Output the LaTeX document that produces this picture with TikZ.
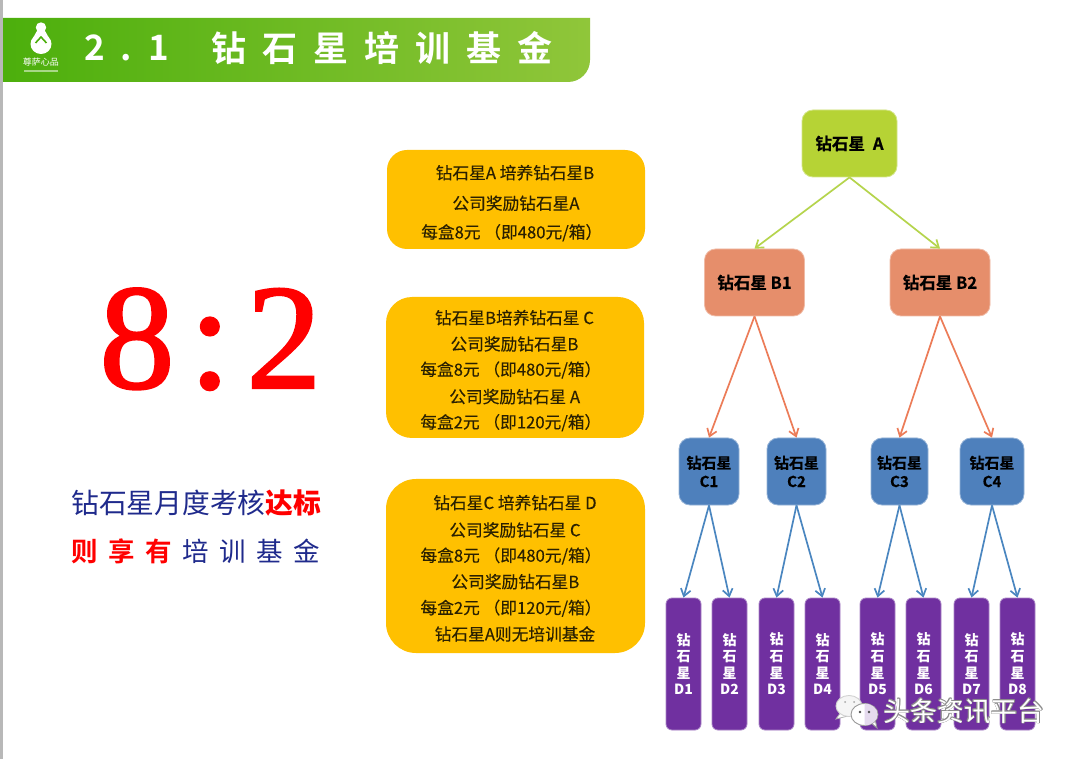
\documentclass[tikz,border=0pt]{standalone}
\usepackage{fontspec}
\usetikzlibrary{arrows.meta,shapes.geometric}
\setmainfont{Noto Sans CJK SC}
\newfontfamily\spacedtitle[LetterSpace=46,BoldFont={Noto Sans CJK SC Bold}]{Noto Sans CJK SC}
\newfontfamily\spacedsub[LetterSpace=40,BoldFont={Noto Sans CJK SC Bold}]{Noto Sans CJK SC}
\newfontfamily\ratiofont[FakeBold=1.6]{Liberation Serif}
\newfontfamily\goldfont[FakeBold=0.25]{Noto Sans CJK SC}
\newfontfamily\heavyfont[FakeBold=0.5]{Noto Sans CJK SC Bold}
\definecolor{barL}{HTML}{4CAF0C}
\definecolor{barR}{HTML}{90C63A}
\definecolor{gold}{HTML}{FFC000}
\definecolor{navyT}{HTML}{1F2A8C}
\definecolor{redT}{HTML}{FF0000}
\definecolor{lvA}{HTML}{B6D335}
\definecolor{lvB}{HTML}{E68E6B}
\definecolor{lvC}{HTML}{4E80BC}
\definecolor{lvD}{HTML}{7030A0}
\definecolor{lnA}{HTML}{B5D44C}
\definecolor{lnB}{HTML}{EC7C58}
\definecolor{lnC}{HTML}{4A86C0}
\definecolor{inkT}{HTML}{2A2000}
\tikzset{
  x=1pt,y=-1pt,
  goldbox/.style={fill=gold,rounded corners=#1},
  goldline/.style={inner sep=0,text=inkT,font=\goldfont\fontsize{16.7}{18}\selectfont},
  ratiotext/.style={inner sep=0,anchor=base,text=redT,font=\ratiofont\fontsize{150}{155}\selectfont},
  nodeA/.style={rectangle,rounded corners=11,fill=lvA,draw=lvA!60!white,line width=.8,inner sep=0,minimum width=95,minimum height=67,font=\heavyfont\fontsize{16.5}{19}\selectfont},
  nodeB/.style={rectangle,rounded corners=11,fill=lvB,draw=lvB!60!white,line width=.8,inner sep=0,minimum width=100,minimum height=67,font=\heavyfont\fontsize{16.5}{19}\selectfont},
  nodeC/.style={rectangle,rounded corners=11,fill=lvC,draw=lvC!60!white,line width=.8,inner sep=0,minimum height=67,align=center,font=\heavyfont\fontsize{15}{18.5}\selectfont},
  nodeD/.style={rectangle,rounded corners=6,fill=lvD,draw=lvD!60!white,line width=.8,inner sep=0,minimum width=35,minimum height=132,text=white,align=center,font=\fontsize{14}{16.6}\selectfont\bfseries},
  linkA/.style={draw=lnA,line width=1.7,-{Straight Barb[length=7pt,width=10pt]}},
  linkB/.style={draw=lnB,line width=1.7,-{Straight Barb[length=7pt,width=10pt]}},
  linkC/.style={draw=lnC,line width=1.7,-{Straight Barb[length=7pt,width=10pt]}},
  bubble/.style={draw=black!40,line width=.9,fill=white},
}
\newcommand{\dtext}[1]{钻\\石\\星\\#1}
\begin{document}
\begin{tikzpicture}
\useasboundingbox (0,0) rectangle (1080,759);
\fill[white] (0,0) rectangle (1080,759);
\fill[black!28] (0,0) rectangle (3,759);
% banner
\shade[left color=barL,right color=barR] (3,18) -- (590,18) [rounded corners=22] -- (590,82) [sharp corners] -- (3,82) -- cycle;
% logo
\fill[white] (41,27.5) circle [radius=5.2];
\fill[white] (41,44) ellipse [x radius=10.5, y radius=10];
\fill[white] (37.5,30) -- (44.5,30) -- (49,38) -- (33,38) -- cycle;
\draw[barL,line width=1.6] (35.5,43) -- (41,37) -- (46.5,43);
\node[inner sep=0,text=white,font=\fontsize{9}{10}\selectfont] (logotext) at (41,62.5) {尊萨心品};
\fill[white,opacity=.5] (24,70) rectangle (58,72.5);
\node[anchor=west,inner sep=0,text=white,font=\spacedtitle\fontsize{35}{38}\selectfont\bfseries] (titlenum) at (84,48) {2.1};
\node[anchor=west,inner sep=0,text=white,font=\spacedtitle\fontsize{35}{38}\selectfont\bfseries] (titlecn) at (211,48) {钻石星培训基金};
% ratio
\node[ratiotext] (r8) at (137,388) {8};
\node[ratiotext] (rc) at (210,388) {:};
\node[ratiotext] (r2) at (284,388) {2};
\node[anchor=west,inner sep=0,text=navyT,font=\fontsize{27.8}{30}\selectfont] (sub1) at (71,503) {钻石星月度考核\textcolor{redT}{\bfseries 达标}};
\node[anchor=west,inner sep=0,text=navyT,font=\spacedsub\fontsize{26.5}{30}\selectfont] (sub2) at (71,551) {\textcolor{redT}{\bfseries 则享有}\kern10.6pt 培训基金};
% gold boxes
\fill[goldbox=20] (387,150) rectangle (645,249);
\fill[goldbox=26] (386,297) rectangle (644,438);
\fill[goldbox=30] (386,479) rectangle (645,653);
\node[goldline] (a1) at (515,172.7) {钻石星A 培养钻石星B};
\node[goldline] (a2) at (516,203.3) {公司奖励钻石星A};
\node[goldline] (a3) at (511.7,232.7) {每盒8元 （即480元/箱）};
\node[goldline] (b1) at (514.5,317.7) {钻石星B培养钻石星 C};
\node[goldline] (b2) at (514.5,344) {公司奖励钻石星B};
\node[goldline] (b3) at (510.8,370) {每盒8元 （即480元/箱）};
\node[goldline] (b4) at (514.7,396.7) {公司奖励钻石星 A};
\node[goldline] (b5) at (510.8,422.7) {每盒2元 （即120元/箱）};
\node[goldline] (c1) at (515,502.7) {钻石星C 培养钻石星 D};
\node[goldline] (c2) at (515,530) {公司奖励钻石星 C};
\node[goldline] (c3) at (511,556) {每盒8元 （即480元/箱）};
\node[goldline] (c4) at (515.4,581.7) {公司奖励钻石星B};
\node[goldline] (c5) at (511,608.3) {每盒2元 （即120元/箱）};
\node[goldline] (c6) at (515,634) {钻石星A则无培训基金};
% tree
\node[nodeA] (A) at (849.5,143.5) {钻石星\kern8pt A};
\node[nodeB] (B1) at (754.5,282.5) {钻石星 B1};
\node[nodeB] (B2) at (940,282.5) {钻石星 B2};
\node[nodeC,minimum width=60] (C1) at (709,471.5) {钻石星\\C1};
\node[nodeC,minimum width=59] (C2) at (796.5,471.5) {钻石星\\C2};
\node[nodeC,minimum width=57] (C3) at (899.5,471.5) {钻石星\\C3};
\node[nodeC,minimum width=64] (C4) at (992,471.5) {钻石星\\C4};
\node[nodeD] (D1) at (683.5,664) {\dtext{D1}};
\node[nodeD] (D2) at (729.5,664) {\dtext{D2}};
\node[nodeD] (D3) at (776.5,664) {\dtext{D3}};
\node[nodeD] (D4) at (822.5,664) {\dtext{D4}};
\node[nodeD] (D5) at (877.5,664) {\dtext{D5}};
\node[nodeD] (D6) at (923.5,664) {\dtext{D6}};
\node[nodeD] (D7) at (971.5,664) {\dtext{D7}};
\node[nodeD] (D8) at (1017.5,664) {\dtext{D8}};
\draw[linkA] (A.south) -- (B1.north);
\draw[linkA] (A.south) -- (B2.north);
\draw[linkB] (B1.south) -- (C1.north);
\draw[linkB] (B1.south) -- (C2.north);
\draw[linkB] (B2.south) -- (C3.north);
\draw[linkB] (B2.south) -- (C4.north);
\draw[linkC] (C1.south) -- (D1.north);
\draw[linkC] (C1.south) -- (D2.north);
\draw[linkC] (C2.south) -- (D3.north);
\draw[linkC] (C2.south) -- (D4.north);
\draw[linkC] (C3.south) -- (D5.north);
\draw[linkC] (C3.south) -- (D6.north);
\draw[linkC] (C4.south) -- (D7.north);
\draw[linkC] (C4.south) -- (D8.north);
% watermark
\draw[black!30,line width=.8,fill=white] (841,712) -- (836,719) -- (848,716) -- cycle;
\draw[bubble,fill=black!4,draw=black!18] (849,706) ellipse [x radius=13, y radius=10.5];
\fill[black!35] (845,702) circle (1) (854,702) circle (1);
\draw[black!40,line width=.9,fill=white] (870,722) -- (877,728) -- (875,719) -- cycle;
\draw[bubble] (864.5,714.5) ellipse [x radius=13.5, y radius=11];
\fill[lvD!18] (864.5,703.5) arc [start angle=90, end angle=-90, x radius=13, y radius=-11] -- cycle;
\fill[black!70] (860,712) circle (1.4) (869,712) circle (1.4);
\foreach \dx/\dy in {-.6/0,.6/0,0/-.6,0/.6,-.5/-.5,.5/.5,-.5/.5,.5/-.5}
  \node[inner sep=0,text=black!45,font=\fontsize{26.8}{28}\selectfont] at (964+\dx,711+\dy) {头条资讯平台};
\node[inner sep=0,text=white,font=\fontsize{26.8}{28}\selectfont] (mark) at (964,711) {头条资讯平台};
\end{tikzpicture}
\end{document}
